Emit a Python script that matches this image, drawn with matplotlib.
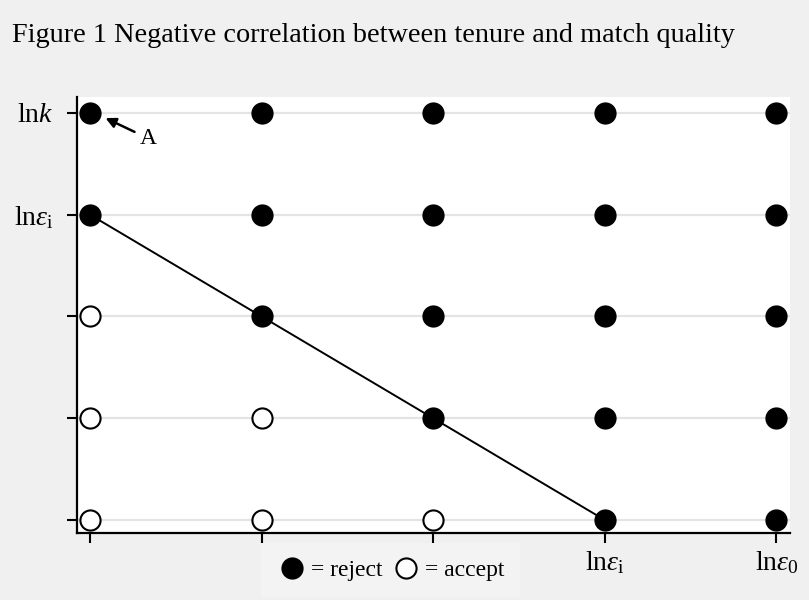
import matplotlib
matplotlib.use('Agg')
import matplotlib.pyplot as plt
from matplotlib.lines import Line2D

plt.rcParams['font.family'] = ['Liberation Serif', 'DejaVu Serif']
plt.rcParams['mathtext.fontset'] = 'custom'
plt.rcParams['mathtext.rm'] = 'Liberation Serif'
plt.rcParams['mathtext.it'] = 'Liberation Serif:italic'

# grid of tenure (x) and match quality (y) levels
x_levels = [0, 1, 2, 3, 4]
y_levels = [0, 1, 2, 3, 4]
# 1 = reject, 0 = accept; rows from y=0 upward
reject = [
    [0, 0, 0, 1, 1],
    [0, 0, 1, 1, 1],
    [0, 1, 1, 1, 1],
    [1, 1, 1, 1, 1],
    [1, 1, 1, 1, 1],
]
line_x = [0, 3]
line_y = [3, 0]
x_labels = ['', '', '', r'ln$\varepsilon_{\mathrm{i}}$', r'ln$\varepsilon_{0}$']
y_labels = ['', '', '', r'ln$\varepsilon_{\mathrm{i}}$', r'ln$k$']

bg = '#f0f0f0'
fig = plt.figure(figsize=(8.09, 6.0), dpi=100, facecolor=bg)
ax = fig.add_axes([0.0952, 0.1117, 0.8813, 0.7266])
ax.set_facecolor('white')

for y in y_levels:
    ax.axhline(y, color='#e4e4e4', lw=1.6, zorder=0)

ax.plot(line_x, line_y, color='black', lw=1.4, zorder=2)

for yi, y in enumerate(y_levels):
    for xi, x in enumerate(x_levels):
        fc = 'black' if reject[yi][xi] else 'white'
        ax.plot(x, y, 'o', ms=14.5, mfc=fc, mec='black', mew=1.5, zorder=3)

ax.annotate('A', xy=(0.09, 3.95), xytext=(0.29, 3.75), fontsize=17,
            ha='left', va='center',
            arrowprops=dict(arrowstyle='-|>', color='black', lw=1.8,
                            mutation_scale=15, shrinkA=2, shrinkB=0))

ax.set_xlim(-0.076, 4.08)
ax.set_ylim(-0.128, 4.157)
ax.set_xticks(x_levels)
ax.set_xticklabels(x_labels, fontsize=20)
ax.set_yticks(y_levels)
ax.set_yticklabels(y_labels, fontsize=20)
ax.tick_params(axis='both', length=7, width=1.5, color='black')
ax.tick_params(axis='x', pad=5)
ax.tick_params(axis='y', pad=10)

for s in ['top', 'right']:
    ax.spines[s].set_visible(False)
for s in ['left', 'bottom']:
    ax.spines[s].set_linewidth(1.6)
    ax.spines[s].set_color('black')

fig.text(0.015, 0.94, 'Figure 1 Negative correlation between tenure and match quality',
         fontsize=20.3, ha='left', va='center')

handles = [
    Line2D([], [], ls='', marker='o', ms=14.5, mfc='black', mec='black', mew=1.5),
    Line2D([], [], ls='', marker='o', ms=14.5, mfc='white', mec='black', mew=1.5),
]
fig.legend(handles, ['= reject', '= accept'], loc='center', ncol=2,
           bbox_to_anchor=(0.483, 0.05), frameon=True, facecolor='#f4f4f4',
           edgecolor='none', fancybox=False, fontsize=17, handletextpad=0.2,
           columnspacing=0.4, handlelength=1.2, borderpad=0.7)

fig.savefig('out.png', dpi=100, facecolor=bg)
